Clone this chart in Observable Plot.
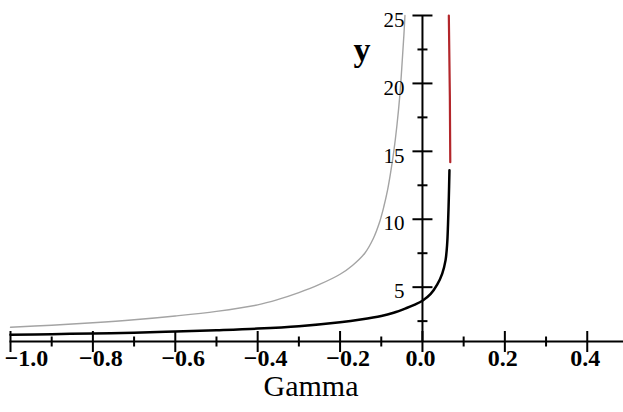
<!DOCTYPE html>
<html>
<head>
<meta charset="utf-8">
<script src="https://cdn.jsdelivr.net/npm/d3@7"></script>
<script src="https://cdn.jsdelivr.net/npm/@observablehq/plot@0.6"></script>
<style>
  html, body { margin: 0; padding: 0; background: #ffffff; }
  #chart svg { display: block; background: #ffffff; }
</style>
</head>
<body>
<div id="chart"></div>
<script>
// ---- data ----
const blackX = [-1.0, -0.9, -0.8, -0.7, -0.6, -0.5, -0.4, -0.3, -0.2, -0.15, -0.1, -0.07, -0.04, -0.02, 0.0, 0.02, 0.036, 0.048, 0.056, 0.06, 0.062, 0.064, 0.0655];
const blackY = [1.50, 1.54, 1.59, 1.65, 1.73, 1.83, 1.95, 2.13, 2.42, 2.62, 2.88, 3.12, 3.45, 3.70, 4.00, 4.50, 5.20, 6.00, 6.97, 8.20, 9.60, 11.60, 13.60];

const grayX = [-1.0, -0.9, -0.8, -0.7, -0.6, -0.5, -0.4, -0.35, -0.3, -0.25, -0.2, -0.17, -0.14, -0.119, -0.105, -0.094, -0.085, -0.078, -0.07, -0.062, -0.055, -0.049, -0.045, -0.0425];
const grayY = [2.05, 2.20, 2.38, 2.60, 2.88, 3.22, 3.70, 4.10, 4.60, 5.20, 5.95, 6.60, 7.50, 8.60, 9.70, 10.90, 12.10, 13.30, 14.90, 16.90, 19.10, 21.70, 23.60, 25.00];

const redX = [0.0675, 0.0665, 0.064];
const redY = [14.2, 19.0, 25.0];

const xMajor = [-1.0, -0.8, -0.6, -0.4, -0.2, 0.0, 0.2, 0.4];
const xMinor = [-0.9, -0.7, -0.5, -0.3, -0.1, 0.1, 0.3];
const yMajor = [5, 10, 15, 20, 25];
const yMinor = [2.5, 7.5, 12.5, 17.5, 22.5];
const xTitle = "Gamma";
const yTitle = "y";

// ---- build tables ----
const black = blackX.map((x, i) => ({x, y: blackY[i]}));
const gray = grayX.map((x, i) => ({x, y: grayY[i]}));
const red = redX.map((x, i) => ({x, y: redY[i]}));

const vLine = (h) => ({draw(ctx) { ctx.moveTo(0, -h); ctx.lineTo(0, h); }});
const hLine = (w) => ({draw(ctx) { ctx.moveTo(-w, 0); ctx.lineTo(w, 0); }});
const fmt = d3.format(".1f");
const serif = "'Liberation Serif', 'DejaVu Serif', serif";

const chart = Plot.plot({
  width: 623,
  height: 412,
  marginLeft: 10,
  marginRight: 0,
  marginTop: 15,
  marginBottom: 71,
  style: {background: "#ffffff", overflow: "visible"},
  x: {domain: [-1.0, 0.488], axis: null},
  y: {domain: [1, 25], axis: null},
  marks: [
    // axis lines
    Plot.frame({anchor: "bottom", stroke: "#000", strokeWidth: 2}),
    Plot.ruleX([0], {stroke: "#000", strokeWidth: 2}),
    // x ticks (crosses)
    Plot.dot(xMajor, {x: d => d, frameAnchor: "bottom", symbol: vLine(10.5), stroke: "#000", strokeWidth: 2, fill: "none"}),
    Plot.dot(xMinor, {x: d => d, frameAnchor: "bottom", symbol: vLine(5), stroke: "#000", strokeWidth: 2, fill: "none"}),
    // y ticks (crosses)
    Plot.dot(yMajor, {x: () => 0, y: d => d, symbol: hLine(10), stroke: "#000", strokeWidth: 2, fill: "none"}),
    Plot.dot(yMinor, {x: () => 0, y: d => d, symbol: hLine(5), stroke: "#000", strokeWidth: 2, fill: "none"}),
    // curves
    Plot.line(gray, {x: "x", y: "y", stroke: "#a4a4a4", strokeWidth: 1.4, curve: "catmull-rom"}),
    Plot.line(black, {x: "x", y: "y", stroke: "#000", strokeWidth: 2.5, curve: "catmull-rom"}),
    Plot.line(red, {x: "x", y: "y", stroke: "#b3262b", strokeWidth: 2.2}),
    // x tick labels
    Plot.text(xMajor.filter(d => d === -1.0), {x: d => d, frameAnchor: "bottom", dy: 24, dx: 16, text: d => fmt(d), fontSize: 24, fontWeight: "bold", fontFamily: serif, fill: "#000"}),
    Plot.text(xMajor.filter(d => d < 0 && d !== -1.0), {x: d => d, frameAnchor: "bottom", dy: 24, dx: 8, text: d => fmt(d), fontSize: 24, fontWeight: "bold", fontFamily: serif, fill: "#000"}),
    Plot.text(xMajor.filter(d => d >= 0), {x: d => d, frameAnchor: "bottom", dy: 24, dx: -2, text: d => fmt(d), fontSize: 24, fontWeight: "bold", fontFamily: serif, fill: "#000"}),
    // y tick labels
    Plot.text(yMajor, {x: () => 0, y: d => d, dx: -18, dy: 4.5, textAnchor: "end", text: d => String(d), fontSize: 21, fontFamily: serif, fill: "#000"}),
    // titles
    Plot.text([xTitle], {frameAnchor: "bottom", dy: 54.5, dx: -6, text: d => d, fontSize: 30, fontFamily: serif, fill: "#000"}),
    Plot.text([yTitle], {x: () => 0, frameAnchor: "top", dx: -60.5, dy: 21.6, text: d => d, fontSize: 34, fontWeight: "bold", fontFamily: serif, fill: "#000"})
  ]
});

document.getElementById("chart").appendChild(chart);
</script>
</body>
</html>
